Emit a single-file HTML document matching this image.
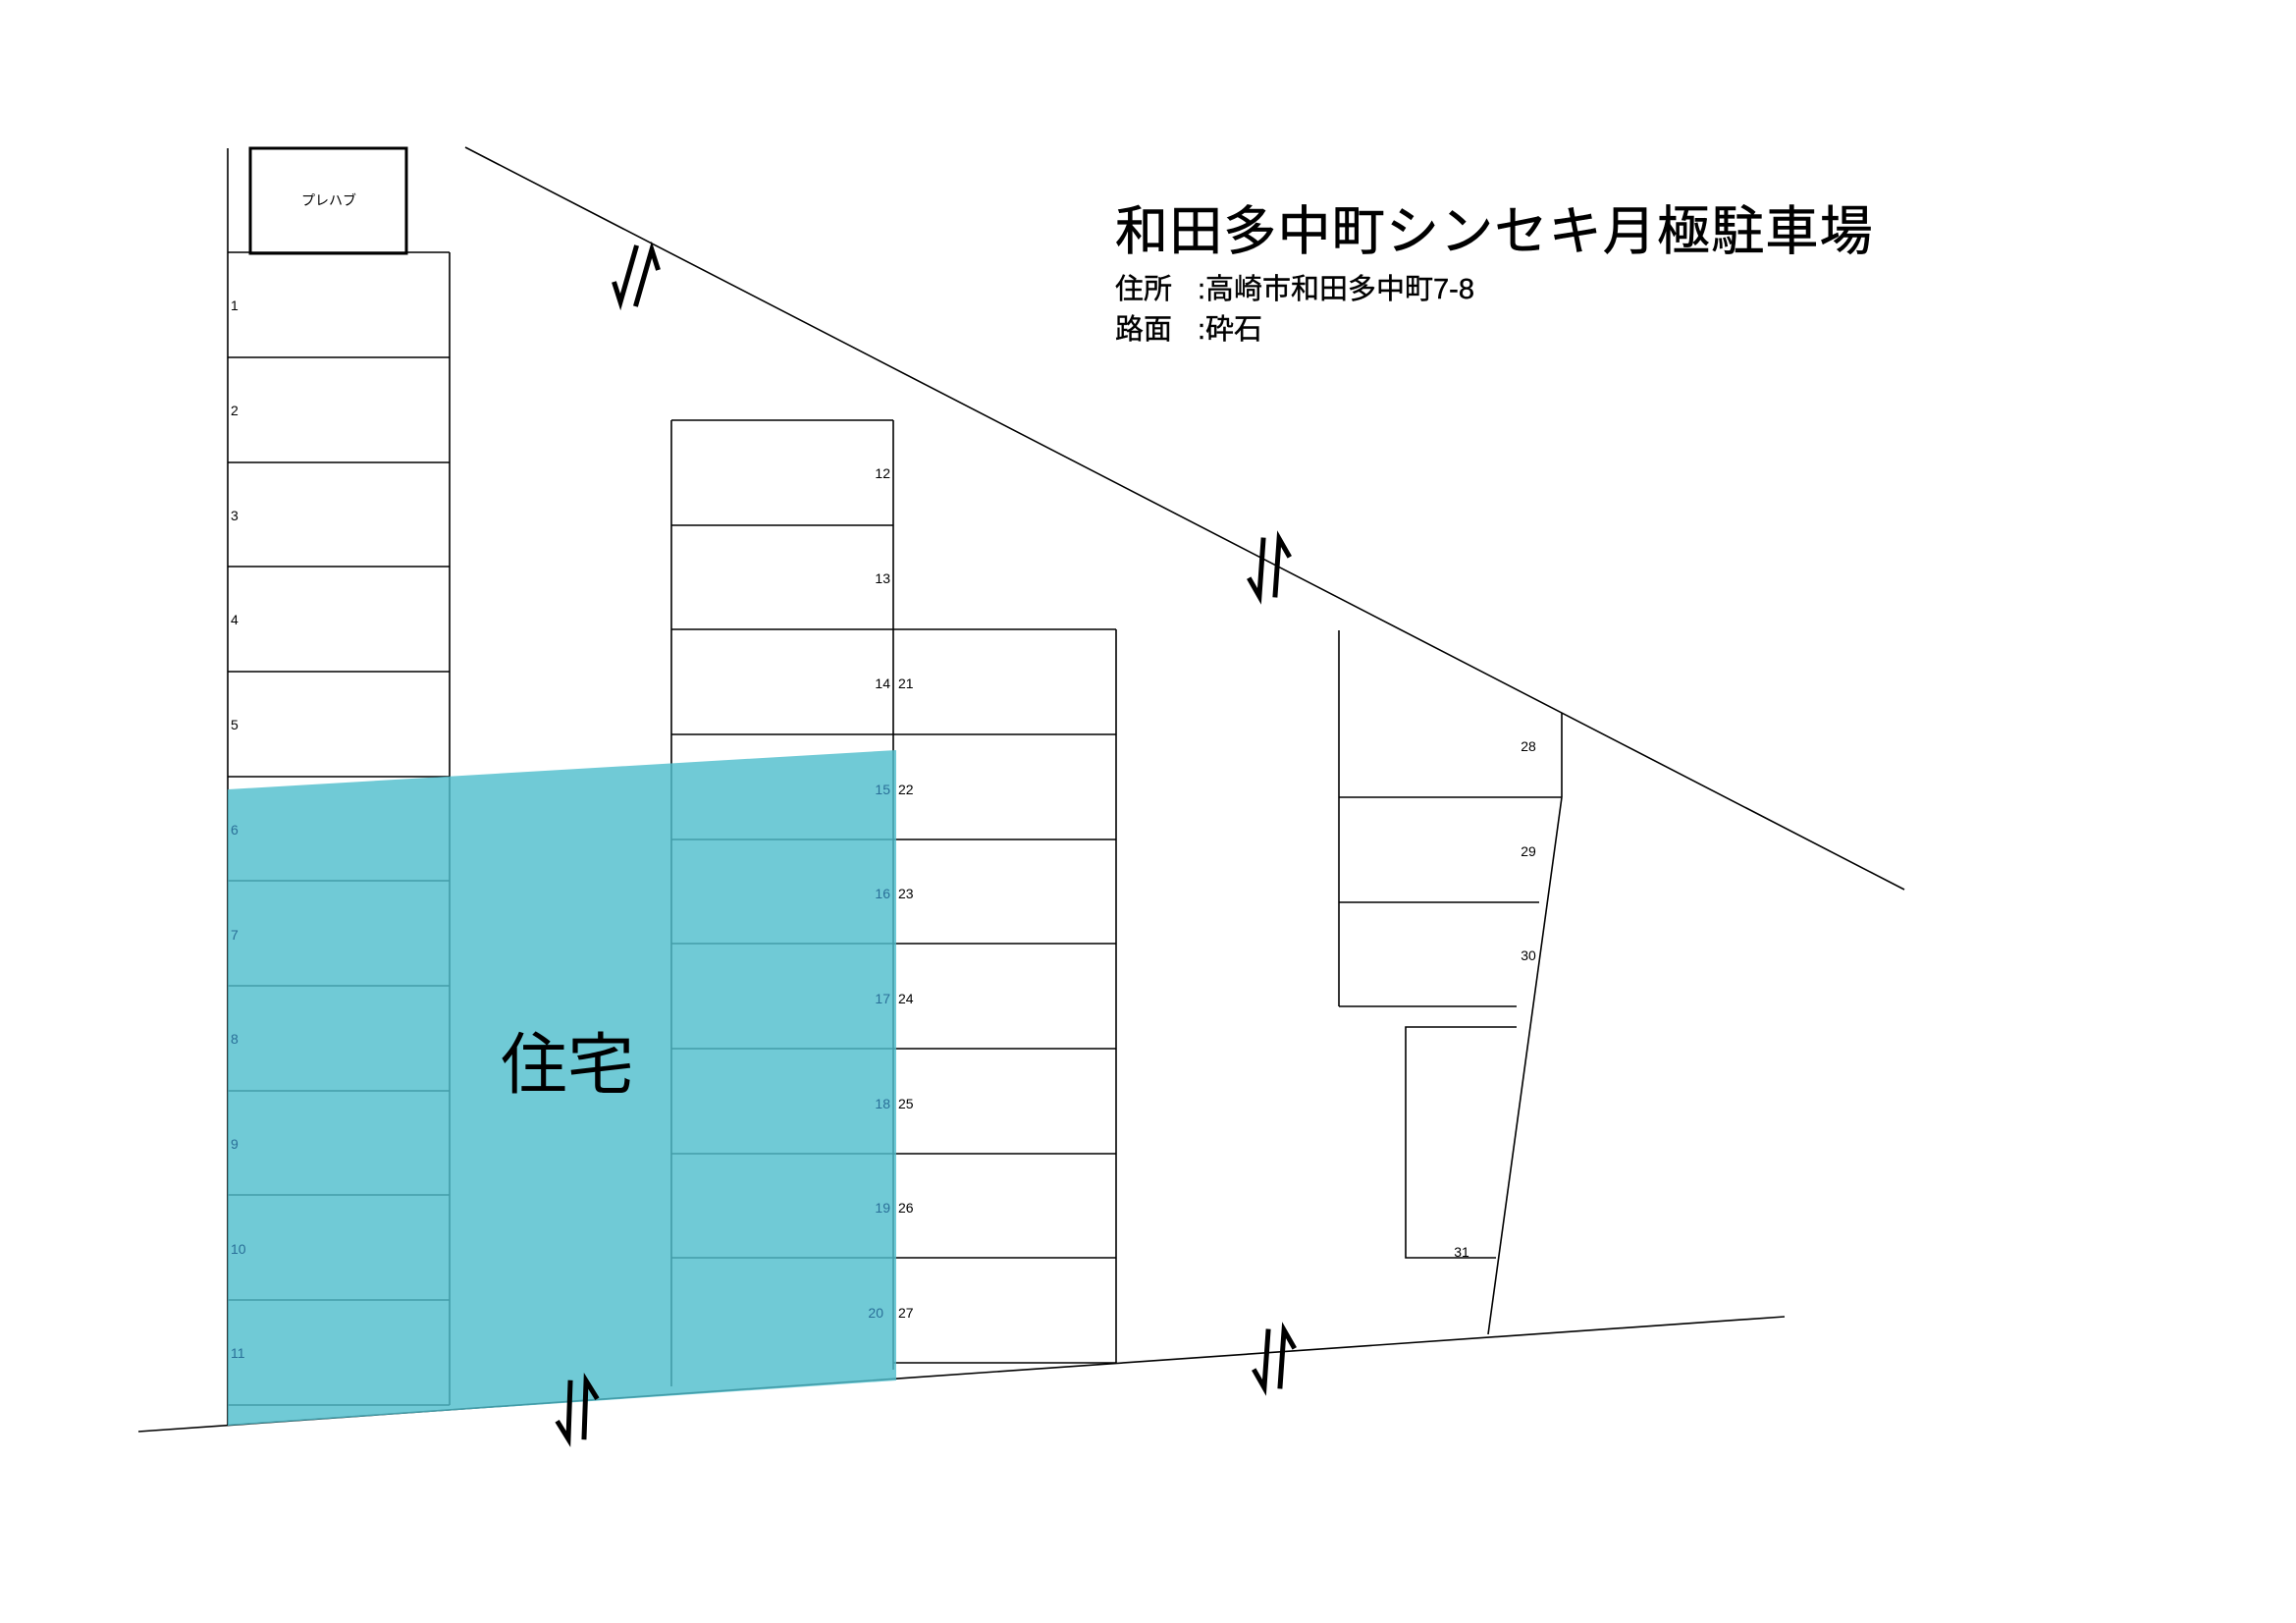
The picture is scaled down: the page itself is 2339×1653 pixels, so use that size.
<!DOCTYPE html>
<html><head><meta charset="utf-8"><style>
html,body{margin:0;padding:0;background:#fff;}
svg{display:block;}
text{font-family:"Liberation Sans","Noto Sans CJK JP",sans-serif;}
</style></head><body>
<svg width="2339" height="1653" viewBox="0 0 2339 1653" xmlns="http://www.w3.org/2000/svg">
<defs>
<g id="arr" fill="none" stroke="#000" stroke-width="5">
<path d="M-8,-30 L-8,30 L-20,12"/>
<path d="M8,30 L8,-30 L20,-12"/>
</g>
</defs>
<g stroke="#000" stroke-width="1.6" fill="none">
<line x1="474" y1="150" x2="1940" y2="906"/>
<line x1="141" y1="1458" x2="1818" y2="1341"/>
<line x1="232" y1="151" x2="232" y2="1452"/>
<rect x="255" y="151" width="159" height="107" stroke-width="3"/>
<line x1="458" y1="257" x2="458" y2="1431"/>
<line x1="232" y1="257" x2="458" y2="257"/>
<line x1="232" y1="364" x2="458" y2="364"/>
<line x1="232" y1="471" x2="458" y2="471"/>
<line x1="232" y1="577" x2="458" y2="577"/>
<line x1="232" y1="684" x2="458" y2="684"/>
<line x1="232" y1="791" x2="458" y2="791"/>
<line x1="232" y1="897" x2="458" y2="897"/>
<line x1="232" y1="1004" x2="458" y2="1004"/>
<line x1="232" y1="1111" x2="458" y2="1111"/>
<line x1="232" y1="1217" x2="458" y2="1217"/>
<line x1="232" y1="1324" x2="458" y2="1324"/>
<line x1="232" y1="1431" x2="458" y2="1431"/>
<line x1="684" y1="428" x2="684" y2="1412"/>
<line x1="910" y1="428" x2="910" y2="1395"/>
<line x1="684" y1="428" x2="910" y2="428"/>
<line x1="684" y1="535" x2="910" y2="535"/>
<line x1="684" y1="641" x2="1137" y2="641"/>
<line x1="684" y1="748" x2="1137" y2="748"/>
<line x1="684" y1="855" x2="1137" y2="855"/>
<line x1="684" y1="961" x2="1137" y2="961"/>
<line x1="684" y1="1068" x2="1137" y2="1068"/>
<line x1="684" y1="1175" x2="1137" y2="1175"/>
<line x1="684" y1="1281" x2="1137" y2="1281"/>
<line x1="910" y1="1388" x2="1137" y2="1388"/>
<line x1="1137" y1="641" x2="1137" y2="1388"/>
<line x1="1364" y1="642" x2="1364" y2="1025"/>
<line x1="1364" y1="812" x2="1591" y2="812"/>
<line x1="1364" y1="919" x2="1568" y2="919"/>
<line x1="1364" y1="1025" x2="1545" y2="1025"/>
<line x1="1591" y1="726" x2="1591" y2="812"/>
<line x1="1591" y1="812" x2="1516" y2="1359"/>
<polyline points="1545,1046 1432,1046 1432,1281 1524,1281"/>
</g>
<polygon points="232,804 913,764 913,1406 232,1452" fill="rgb(80,190,205)" fill-opacity="0.82"/>
<g font-size="14" fill="#000">
<text x="335" y="209" text-anchor="middle" font-size="14">プレハブ</text>
<text x="235" y="316">1</text>
<text x="235" y="423">2</text>
<text x="235" y="530">3</text>
<text x="235" y="636">4</text>
<text x="235" y="743">5</text>
</g>
<g font-size="14" fill="#2a6f98">
<text x="235" y="850">6</text>
<text x="235" y="957">7</text>
<text x="235" y="1063">8</text>
<text x="235" y="1170">9</text>
<text x="235" y="1277">10</text>
<text x="235" y="1383">11</text>
<text x="907" y="809" text-anchor="end">15</text>
<text x="907" y="915" text-anchor="end">16</text>
<text x="907" y="1022" text-anchor="end">17</text>
<text x="907" y="1129" text-anchor="end">18</text>
<text x="907" y="1235" text-anchor="end">19</text>
<text x="900" y="1342" text-anchor="end">20</text>
</g>
<g font-size="14" fill="#000">
<text x="907" y="487" text-anchor="end">12</text>
<text x="907" y="594" text-anchor="end">13</text>
<text x="907" y="701" text-anchor="end">14</text>
<text x="915" y="701">21</text>
<text x="915" y="809">22</text>
<text x="915" y="915">23</text>
<text x="915" y="1022">24</text>
<text x="915" y="1129">25</text>
<text x="915" y="1235">26</text>
<text x="915" y="1342">27</text>
<text x="1557" y="765" text-anchor="middle">28</text>
<text x="1557" y="872" text-anchor="middle">29</text>
<text x="1557" y="978" text-anchor="middle">30</text>
<text x="1489" y="1280" text-anchor="middle">31</text>
</g>
<text x="578" y="1108" font-size="68" text-anchor="middle" fill="#000">住宅</text>
<text x="1136" y="254" font-size="54" letter-spacing="1.2" fill="#000" stroke="#000" stroke-width="0.6">和田多中町シンセキ月極駐車場</text>
<text x="1136" y="304" font-size="29" fill="#000" stroke="#000" stroke-width="0.4">住所</text>
<text x="1220" y="304" font-size="29" fill="#000" stroke="#000" stroke-width="0.4">:高崎市和田多中町7-8</text>
<text x="1136" y="345" font-size="29" fill="#000" stroke="#000" stroke-width="0.4">路面</text>
<text x="1220" y="345" font-size="29" fill="#000" stroke="#000" stroke-width="0.4">:砕石</text>
<use href="#arr" transform="translate(648,281) rotate(16)"/>
<use href="#arr" transform="translate(1293,578) rotate(4)"/>
<use href="#arr" transform="translate(1298,1384) rotate(4)"/>
<use href="#arr" transform="translate(588,1436) rotate(2)"/>
</svg>
</body></html>
